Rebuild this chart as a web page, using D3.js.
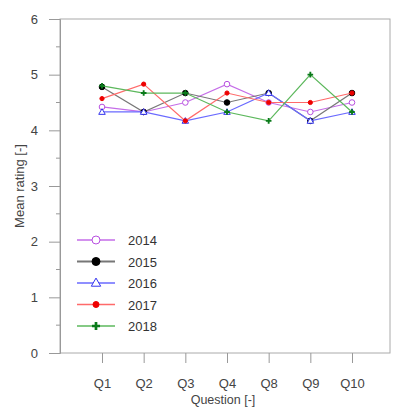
<!DOCTYPE html>
<html>
<head>
<meta charset="utf-8">
<script src="https://cdn.jsdelivr.net/npm/d3@7"></script>
<style>
  body { margin: 0; background: #fff; }
  svg { font-family: "Liberation Sans", Arial, sans-serif; }
</style>
</head>
<body>
<div id="chart"></div>
<script>
// data
const questions = ["Q1", "Q2", "Q3", "Q4", "Q8", "Q9", "Q10"];
const years = ["2014", "2015", "2016", "2017", "2018"];
const r2014 = [4.42, 4.33, 4.5, 4.83, 4.5, 4.33, 4.5];
const r2015 = [4.78, 4.33, 4.67, 4.5, 4.67, 4.17, 4.67];
const r2016 = [4.33, 4.33, 4.17, 4.33, 4.67, 4.17, 4.33];
const r2017 = [4.57, 4.83, 4.17, 4.67, 4.5, 4.5, 4.67];
const r2018 = [4.8, 4.67, 4.67, 4.33, 4.17, 5.0, 4.33];
const yTicks = [0, 1, 2, 3, 4, 5, 6];

const series = [
  { name: years[0], values: r2014, line: "#c56de8", mark: "#b84fe0", shape: "circle", fill: "#fff", r: 4 },
  { name: years[1], values: r2015, line: "#777", mark: "#000", shape: "circle", fill: "#000", r: 4 },
  { name: years[2], values: r2016, line: "#6a6aff", mark: "#3333ee", shape: "triangle", fill: "#fff", r: 4 },
  { name: years[3], values: r2017, line: "#ff6a6a", mark: "#ee0000", shape: "circle", fill: "#ee0000", r: 3 },
  { name: years[4], values: r2018, line: "#5cb85c", mark: "#0a7a1a", shape: "plus", fill: "#0a7a1a", r: 4 }
];

const width = 393, height = 407;
const mLeft = 60, mRight = 390, mTop = 19, mBottom = 353;

const svg = d3.select("#chart").append("svg")
  .attr("width", width).attr("height", height);

const x = d3.scalePoint().domain(questions).range([mLeft + 42, mRight - 38]);
const y = d3.scaleLinear().domain([0, 6]).range([mBottom, mTop]);

// frame
svg.append("rect")
  .attr("x", mLeft).attr("y", mTop)
  .attr("width", mRight - mLeft).attr("height", mBottom - mTop)
  .attr("fill", "none").attr("stroke", "#aaa").attr("stroke-width", 1);

// y axis
const yAxis = svg.append("g").attr("transform", `translate(${mLeft},0)`)
  .call(d3.axisLeft(y).tickValues(yTicks).tickSize(11).tickPadding(11).tickFormat(d3.format("d")));
yAxis.select(".domain").attr("stroke", "#999");
yAxis.selectAll(".tick line").attr("stroke", "#999");
yAxis.selectAll("text").attr("font-size", 13).attr("fill", "#444");

// minor y ticks
svg.append("g").selectAll("line")
  .data(d3.range(0.5, 6, 1))
  .join("line")
  .attr("x1", mLeft - 4).attr("x2", mLeft)
  .attr("y1", d => y(d)).attr("y2", d => y(d))
  .attr("stroke", "#999");

// x axis
const xAxis = svg.append("g").attr("transform", `translate(0,${mBottom})`)
  .call(d3.axisBottom(x).tickSize(10).tickPadding(16));
xAxis.select(".domain").remove();
xAxis.selectAll(".tick line").attr("stroke", "#999");
xAxis.selectAll("text").attr("font-size", 13).attr("fill", "#444");

// axis titles
svg.append("text")
  .attr("x", (mLeft + mRight) / 2 - 2).attr("y", 404)
  .attr("text-anchor", "middle").attr("font-size", 12.5).attr("fill", "#444")
  .text("Question [-]");

svg.append("text")
  .attr("transform", `translate(24,${(mTop + mBottom) / 2}) rotate(-90)`)
  .attr("text-anchor", "middle").attr("font-size", 13).attr("fill", "#444")
  .text("Mean rating [-]");

const line = d3.line().x((d, i) => x(questions[i])).y(d => y(d));

function drawMarker(g, s, cx, cy, k) {
  if (s.shape === "circle") {
    g.append("circle").attr("cx", cx).attr("cy", cy).attr("r", s.r * k)
      .attr("fill", s.fill).attr("stroke", s.mark).attr("stroke-width", 1);
  } else if (s.shape === "triangle") {
    g.append("path")
      .attr("d", d3.symbol(d3.symbolTriangle, 38 * k * k)())
      .attr("transform", `translate(${cx},${cy + 0.5})`)
      .attr("fill", s.fill).attr("stroke", s.mark).attr("stroke-width", 1);
  } else {
    g.append("path")
      .attr("d", d3.symbol(d3.symbolCross, 36 * k * k)())
      .attr("transform", `translate(${cx},${cy})`)
      .attr("fill", s.fill);
  }
}

// lines + markers
series.forEach(s => {
  const g = svg.append("g");
  g.append("path").datum(s.values)
    .attr("d", line).attr("fill", "none")
    .attr("stroke", s.line).attr("stroke-width", 1.2);
  s.values.forEach((v, i) => drawMarker(g, s, x(questions[i]), y(v), 0.7));
});

// legend
const legend = svg.append("g");
series.forEach((s, i) => {
  const ly = 240 + i * 21.5;
  const g = legend.append("g");
  g.append("line").attr("x1", 77).attr("x2", 115).attr("y1", ly).attr("y2", ly)
    .attr("stroke", s.line).attr("stroke-width", s.name === "2015" ? 2 : 1.3);
  drawMarker(g, s, 96, ly, 1);
  g.append("text").attr("x", 128).attr("y", ly + 5)
    .attr("font-size", 13).attr("fill", "#333").text(s.name);
});
</script>
</body>
</html>
